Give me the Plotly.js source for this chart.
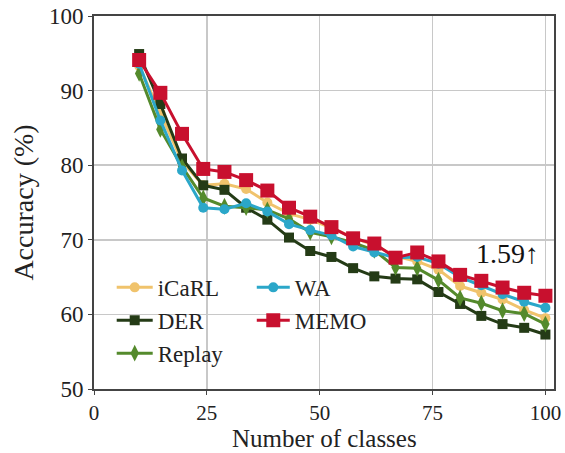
<!DOCTYPE html>
<html>
<head>
<meta charset="utf-8">
<script src="https://cdn.plot.ly/plotly-3.0.1.min.js"></script>
<style>html,body{margin:0;padding:0;background:#fff;}#chart{width:565px;height:453px;}</style>
</head>
<body>
<div id="chart"></div>
<script>
const classes = [10, 14.7, 19.5, 24.2, 28.9, 33.7, 38.4, 43.2, 47.9, 52.6, 57.4, 62.1, 66.8, 71.6, 76.3, 81.1, 85.8, 90.5, 95.3, 100];
const icarl  = [93.3, 87.0, 80.5, 77.3, 77.5, 76.8, 75.0, 73.5, 72.7, 71.6, 70.3, 69.3, 67.8, 67.1, 66.0, 63.8, 62.9, 62.0, 60.6, 59.5];
const der    = [94.9, 88.2, 80.9, 77.3, 76.7, 74.3, 72.7, 70.3, 68.5, 67.7, 66.2, 65.1, 64.8, 64.7, 63.0, 61.4, 59.8, 58.7, 58.2, 57.3];
const replay = [92.3, 84.8, 79.8, 75.6, 74.5, 74.3, 74.0, 72.8, 71.0, 70.4, 69.6, 68.6, 66.3, 66.2, 64.6, 62.2, 61.5, 60.5, 60.1, 58.7];
const wa     = [93.6, 86.0, 79.3, 74.3, 74.1, 74.9, 73.8, 72.1, 71.3, 70.6, 69.1, 68.3, 67.6, 67.7, 66.8, 65.0, 63.9, 62.7, 61.7, 60.9];
const memo   = [94.1, 89.7, 84.2, 79.5, 79.1, 78.0, 76.6, 74.3, 73.1, 71.7, 70.2, 69.5, 67.6, 68.3, 67.1, 65.3, 64.5, 63.6, 62.9, 62.5];
const xTicks = [0, 25, 50, 75, 100];
const yTicks = [50, 60, 70, 80, 90, 100];
const xTitle = 'Number of classes';
const yTitle = 'Accuracy (%)';
const gainText = '1.59↑';

const FONT = "'Liberation Serif', serif";
function tr(name, y, color, symbol, size, legend) {
  return {x: classes, y: y, name: name, type: 'scatter', mode: 'lines+markers',
    line: {color: color, width: 3}, marker: {color: color, symbol: symbol, size: size},
    legend: legend};
}
const data = [
  tr('iCaRL', icarl, '#f0c36c', 'circle', 10, 'legend'),
  tr('DER', der, '#243b16', 'square', 10, 'legend'),
  tr('Replay', replay, '#548a2c', 'diamond-tall', 12, 'legend'),
  tr('WA', wa, '#2ba7c9', 'circle', 10, 'legend2'),
  tr('MEMO', memo, '#c8102e', 'square', 14, 'legend2')
];
const legendBase = {font: {family: FONT, size: 23, color: '#222'}, bgcolor: 'rgba(0,0,0,0)',
  borderwidth: 0, yanchor: 'top', xanchor: 'left', tracegroupgap: 0};
const layout = {
  width: 565, height: 453,
  margin: {l: 94, r: 11, t: 16, b: 64},
  paper_bgcolor: '#fff', plot_bgcolor: '#fff',
  font: {family: FONT, size: 23, color: '#222'},
  showlegend: true,
  legend: Object.assign({x: 0.0385, y: 0.33, itemwidth: 36}, legendBase),
  legend2: Object.assign({x: 0.343, y: 0.33, itemwidth: 33}, legendBase),
  xaxis: {range: [0, 101.9], tickvals: xTicks, ticktext: xTicks.map(String),
    showgrid: true, gridcolor: '#c8c8c8', gridwidth: 1.5,
    showline: true, linecolor: '#444', linewidth: 2, mirror: true,
    ticks: 'outside', ticklen: 4, tickcolor: '#444', zeroline: false,
    tickfont: {family: FONT, size: 21, color: '#222'}},
  yaxis: {range: [50, 100], tickvals: yTicks, ticktext: yTicks.map(String),
    showgrid: true, gridcolor: '#c8c8c8', gridwidth: 1.5,
    showline: true, linecolor: '#444', linewidth: 2, mirror: true,
    ticks: 'outside', ticklen: 4, tickcolor: '#444', zeroline: false,
    tickfont: {family: FONT, size: 23, color: '#222'},
    title: {text: yTitle, font: {family: FONT, size: 28, color: '#222'}, standoff: 7}},
  annotations: [
    {x: 91.7, y: 68.2, xref: 'x', yref: 'y', text: gainText, showarrow: false,
      font: {family: FONT, size: 28, color: '#111'}},
    {x: 0.5, y: -0.1315, xref: 'paper', yref: 'paper', xanchor: 'center', yanchor: 'middle',
      text: xTitle, showarrow: false, font: {family: FONT, size: 25, color: '#222'}}
  ]
};
Plotly.newPlot('chart', data, layout, {staticPlot: true, displayModeBar: false});
</script>
</body>
</html>
